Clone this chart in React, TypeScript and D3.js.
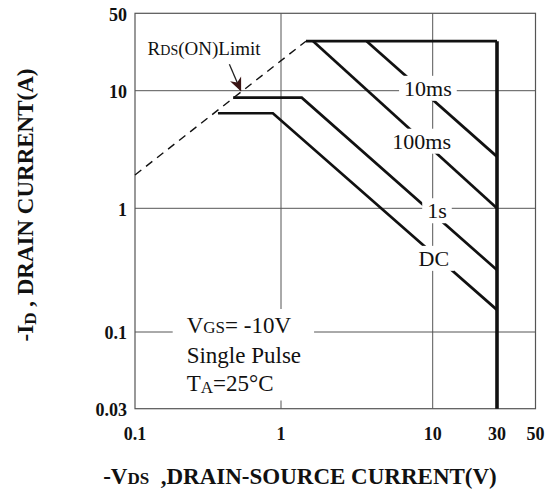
import React, { useEffect, useRef } from "react";
import * as d3 from "d3";

type Pt = [number, number];

// axis ticks (VDS in V, ID in A)
const xTicks = [0.1, 1, 10, 30, 50];
const xTickLabels = ["0.1", "1", "10", "30", "50"];
const yTicks = [0.03, 0.1, 1, 10, 50];
const yTickLabels = ["0.03", "0.1", "1", "10", "50"];
const xGrid = [1, 10];
const yGrid = [0.1, 1, 10];

// safe operating area boundaries, [VDS, ID]
const rdsLimit: Pt[] = [[0.1, 1.92], [1.46, 28]];
const pulseLimit: Pt[] = [[1.46, 28], [30, 28]];
const vdsLimit: Pt[] = [[30, 28], [30, 0.03]];
const line10ms: Pt[] = [[3.67, 28], [30, 2.75]];
const line100ms: Pt[] = [[1.63, 28], [30, 1.0]];
const line1s: Pt[] = [[0.47, 8.72], [1.37, 8.72], [30, 0.317]];
const lineDC: Pt[] = [[0.37, 6.43], [0.88, 6.43], [30, 0.151]];

const curveLabels = ["10ms", "100ms", "1s", "DC"];
const curveLabelAt: Pt[] = [[9.3, 10.6], [8.46, 3.75], [10.76, 0.963], [10.2, 0.397]];

const rdsLabelAt: Pt = [0.122, 21];
const rdsArrow: Pt[] = [[0.443, 17.3], [0.53, 10]];
const noteAt: Pt = [0.226, 0.1];

const FONT = "'Liberation Serif', 'Times New Roman', serif";

const App: React.FC = () => {
  const svgRef = useRef<SVGSVGElement | null>(null);

  useEffect(() => {
    const svg = d3.select(svgRef.current);
    svg.selectAll("*").remove();

    // the printed chart's decades are not evenly spaced, so the log scales are piecewise
    const x = d3.scaleLog().domain(xTicks).range([135, 281, 432.7, 497, 535.5]);
    const y = d3.scaleLog().domain(yTicks).range([408.7, 332, 208.3, 90.7, 13.3]);

    const x0 = x(0.1), x1 = x(50), y0 = y(0.03), y1 = y(50);

    const line = d3
      .line<Pt>()
      .x((d) => x(d[0]))
      .y((d) => y(d[1]));

    svg
      .append("defs")
      .append("marker")
      .attr("id", "head")
      .attr("viewBox", "-14 -7 16 14")
      .attr("markerWidth", 16)
      .attr("markerHeight", 14)
      .attr("markerUnits", "userSpaceOnUse")
      .attr("orient", "auto")
      .append("path")
      .attr("d", "M1,0 L-13,-6 L-9,0 L-13,6 Z")
      .attr("fill", "#3a1414");

    const g = svg.append("g");

    // grid
    g.selectAll("line.vgrid")
      .data(xGrid)
      .enter()
      .append("line")
      .attr("x1", (d) => x(d))
      .attr("x2", (d) => x(d))
      .attr("y1", y1)
      .attr("y2", y0)
      .attr("stroke", "#555")
      .attr("stroke-width", 1);

    g.selectAll("line.hgrid")
      .data(yGrid)
      .enter()
      .append("line")
      .attr("x1", x0)
      .attr("x2", x1)
      .attr("y1", (d) => y(d))
      .attr("y2", (d) => y(d))
      .attr("stroke", "#555")
      .attr("stroke-width", 1);

    g.append("rect")
      .attr("x", x0)
      .attr("y", y1)
      .attr("width", x1 - x0)
      .attr("height", y0 - y1)
      .attr("fill", "none")
      .attr("stroke", "#555")
      .attr("stroke-width", 1.2);

    // limits
    g.append("path")
      .attr("d", line(rdsLimit))
      .attr("fill", "none")
      .attr("stroke", "#111")
      .attr("stroke-width", 1.4)
      .attr("stroke-dasharray", "8,6");

    [pulseLimit, line10ms, line100ms, line1s, lineDC].forEach((pts) => {
      g.append("path")
        .attr("d", line(pts))
        .attr("fill", "none")
        .attr("stroke", "#111")
        .attr("stroke-width", 2.7)
        .attr("stroke-linejoin", "miter");
    });

    g.append("path")
      .attr("d", line(vdsLimit))
      .attr("fill", "none")
      .attr("stroke", "#111")
      .attr("stroke-width", 3.6);

    // curve labels on white boxes
    curveLabels.forEach((name, i) => {
      const lg = g.append("g");
      const box = lg.append("rect").attr("fill", "#fff");
      const t = lg
        .append("text")
        .attr("x", x(curveLabelAt[i][0]))
        .attr("y", y(curveLabelAt[i][1]))
        .attr("dy", "0.36em")
        .attr("text-anchor", "middle")
        .style("font-family", FONT)
        .style("font-size", "22px")
        .attr("fill", "#111")
        .text(name);
      const bb = (t.node() as SVGTextElement).getBBox();
      box
        .attr("x", bb.x - 5)
        .attr("y", bb.y)
        .attr("width", bb.width + 10)
        .attr("height", bb.height);
    });

    // test conditions
    const ng = g.append("g");
    const nbox = ng.append("rect").attr("fill", "#fff");
    const note = ng
      .append("text")
      .style("font-family", FONT)
      .style("font-size", "23px")
      .attr("fill", "#111");
    const nx = x(noteAt[0]);
    const ny = y(noteAt[1]) + 1;
    const l1 = note.append("tspan").attr("x", nx).attr("y", ny);
    l1.append("tspan").text("V");
    l1.append("tspan").style("font-size", "17px").text("GS");
    l1.append("tspan").text("= -10V");
    note.append("tspan").attr("x", nx).attr("y", ny + 29.5).text("Single Pulse");
    const l3 = note.append("tspan").attr("x", nx).attr("y", ny + 57.5);
    l3.append("tspan").text("T");
    l3.append("tspan").style("font-size", "17px").attr("dy", 2).text("A");
    l3.append("tspan").attr("dy", -2).text("=25°C");
    const nb = (note.node() as SVGTextElement).getBBox();
    nbox
      .attr("x", nb.x - 14)
      .attr("y", nb.y - 4)
      .attr("width", nb.width + 27)
      .attr("height", nb.height + 8);

    // RDS(ON) limit label
    const rl = g
      .append("text")
      .attr("x", x(rdsLabelAt[0]))
      .attr("y", y(rdsLabelAt[1]))
      .style("font-family", FONT)
      .style("font-size", "19px")
      .attr("fill", "#111");
    rl.append("tspan").text("R");
    rl.append("tspan").style("font-size", "14px").text("DS");
    rl.append("tspan").text("(ON)Limit");

    g.append("path")
      .attr("d", line(rdsArrow))
      .attr("stroke", "#222")
      .attr("stroke-width", 1.3)
      .attr("fill", "none")
      .attr("marker-end", "url(#head)");

    // tick labels
    g.selectAll("text.xtick")
      .data(xTicks)
      .enter()
      .append("text")
      .attr("x", (d) => x(d))
      .attr("y", 440)
      .attr("text-anchor", "middle")
      .style("font-family", FONT)
      .style("font-size", "18px")
      .style("font-weight", "bold")
      .attr("fill", "#111")
      .text((d, i) => xTickLabels[i]);

    g.selectAll("text.ytick")
      .data(yTicks)
      .enter()
      .append("text")
      .attr("x", x0 - 8)
      .attr("y", (d) => y(d) + 1)
      .attr("dy", "0.35em")
      .attr("text-anchor", "end")
      .style("font-family", FONT)
      .style("font-size", "18px")
      .style("font-weight", "bold")
      .attr("fill", "#111")
      .text((d, i) => yTickLabels[i]);

    // axis titles
    const xt = g
      .append("text")
      .attr("x", 300)
      .attr("y", 484)
      .attr("text-anchor", "middle")
      .style("font-family", FONT)
      .style("font-size", "23px")
      .style("font-weight", "bold")
      .style("white-space", "pre")
      .attr("fill", "#111");
    xt.append("tspan").text("-V");
    xt.append("tspan").style("font-size", "17px").text("DS");
    xt.append("tspan").text("  ,DRAIN-SOURCE CURRENT(V)");

    const yt = g
      .append("text")
      .attr("transform", "translate(33,205) rotate(-90)")
      .attr("text-anchor", "middle")
      .style("font-family", FONT)
      .style("font-size", "23px")
      .style("font-weight", "bold")
      .style("white-space", "pre")
      .attr("fill", "#111");
    yt.append("tspan").text("-I");
    yt.append("tspan").style("font-size", "17px").attr("dy", 3).text("D");
    yt.append("tspan").attr("dy", -3).text(" , DRAIN CURRENT(A)");
  }, []);

  return (
    <svg
      ref={svgRef}
      width={555}
      height={491}
      style={{ position: "absolute", left: 0, top: 0, background: "#fff" }}
    />
  );
};

export default App;
